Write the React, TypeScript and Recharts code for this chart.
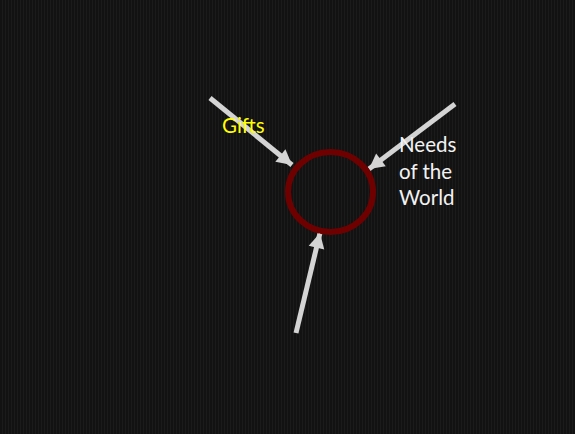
import React from "react";
import { ComposedChart, XAxis, YAxis, Line, Scatter } from "recharts";

// pixel-space coordinates (x to the right, y downward)
const giftsArrow = [
  { x: 210, y: 98 },
  { x: 292, y: 165 },
];
const needsArrow = [
  { x: 455, y: 104 },
  { x: 369, y: 169 },
];
const bottomArrow = [
  { x: 296, y: 333 },
  { x: 320, y: 233 },
];
const circle = [{ x: 330.5, y: 192 }];
const gifts = [{ x: 222, y: 133, lines: ["Gifts"], color: "#ffff00" }];
const needs = [{ x: 399, y: 152, lines: ["Needs", "of the", "World"], color: "#f2f2f2" }];

const W = 575;
const H = 434;
const arrowColor = "#d4d4d4";

const makeHead = (pts: { x: number; y: number }[]) => (props: any) => {
  const { cx, cy, index } = props;
  if (index !== pts.length - 1) return <g key={index} />;
  const a = pts[pts.length - 2];
  const b = pts[pts.length - 1];
  const ang = Math.atan2(b.y - a.y, b.x - a.x);
  const len = 15;
  const half = 8;
  const bx = cx - len * Math.cos(ang);
  const by = cy - len * Math.sin(ang);
  const px = -Math.sin(ang) * half;
  const py = Math.cos(ang) * half;
  return (
    <polygon
      key={index}
      points={`${cx},${cy} ${bx + px},${by + py} ${bx - px},${by - py}`}
      fill={arrowColor}
    />
  );
};

const Ring = (props: any) => (
  <ellipse cx={props.cx} cy={props.cy} rx={42.5} ry={40} fill="none" stroke="#6e0000" strokeWidth={6} />
);

const Label = (props: any) => {
  const { cx, cy, payload } = props;
  return (
    <text x={cx} y={cy} fill={payload.color} fontSize={20.5} fontFamily="Lato, 'Open Sans', sans-serif">
      {payload.lines.map((l: string, i: number) => (
        <tspan key={i} x={cx} dy={i === 0 ? 0 : 26.5}>
          {l}
        </tspan>
      ))}
    </text>
  );
};

export default function App() {
  return (
    <div
      style={{
        position: "fixed",
        left: 0,
        top: 0,
        width: W,
        height: H,
        background: "repeating-linear-gradient(90deg, #121212 0px, #121212 2px, #1b1b1b 2px, #1b1b1b 3px)",
      }}
    >
      <ComposedChart width={W} height={H} margin={{ top: 0, right: 0, bottom: 0, left: 0 }}>
        <XAxis type="number" dataKey="x" domain={[0, W]} hide />
        <YAxis type="number" dataKey="y" domain={[0, H]} reversed hide />
        <Scatter data={circle} shape={Ring} isAnimationActive={false} />
        {[giftsArrow, needsArrow, bottomArrow].map((pts, i) => (
          <Line
            key={i}
            data={pts}
            dataKey="y"
            type="linear"
            stroke={arrowColor}
            strokeWidth={5}
            dot={makeHead(pts)}
            activeDot={false}
            isAnimationActive={false}
          />
        ))}
        <Scatter data={gifts} shape={Label} isAnimationActive={false} />
        <Scatter data={needs} shape={Label} isAnimationActive={false} />
      </ComposedChart>
    </div>
  );
}
